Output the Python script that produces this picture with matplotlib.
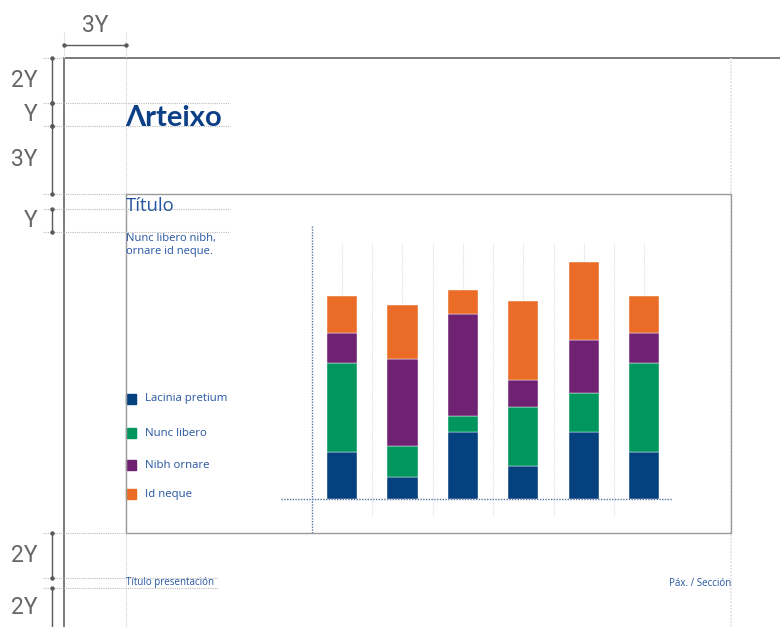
import matplotlib.pyplot as plt
from matplotlib.patches import Rectangle
import numpy as np

# stacked values per column, bottom to top
series = ["Lacinia pretium", "Nunc libero", "Nibh ornare", "Id neque"]
lacinia = [4.7, 2.2, 6.7, 3.3, 6.7, 4.7]
nunc = [8.9, 3.1, 1.6, 5.9, 3.9, 8.9]
nibh = [3.0, 8.7, 10.2, 2.7, 5.3, 3.0]
neque = [3.7, 5.4, 2.4, 7.9, 7.8, 3.7]
colors = ["#05407f", "#00965e", "#702272", "#ea6c27"]

title = "Título"
subtitle = "Nunc libero nibh,\nornare id neque."
footer_left = "Título presentación"
footer_right = "Páx. / Sección"

BLUE_TXT = "#2555a0"
GUIDE = "#bbbbbb"
DIM = "#5a5a5a"
FRAME = "#7a7a7a"
TXT_FONT = "Open Sans"

fig = plt.figure(figsize=(7.8, 6.27), dpi=100)
bg = fig.add_axes([0, 0, 1, 1])
bg.set_xlim(0, 780)
bg.set_ylim(627, 0)
bg.axis("off")

dotted = (0, (1, 1))

# page frame
bg.plot([64, 64], [58, 627], color=FRAME, lw=1.4)
bg.plot([64, 780], [58, 58], color=FRAME, lw=1.4)
# margin guides
bg.plot([731, 731], [58, 627], color="#dddddd", lw=1.2, ls=dotted)
bg.plot([126, 126], [32, 627], color="#d0d0d0", lw=0.8, ls=dotted)
bg.plot([64, 64], [32, 58], color="#d0d0d0", lw=0.8, ls=dotted)

# content box
bg.plot([126, 731, 731, 126, 126], [194, 194, 533, 533, 194], color="#9a9a9a", lw=1.0)

# horizontal guides
for y, x1 in [(58, 64), (103, 230), (126, 230), (194, 126), (209, 230),
              (232, 230), (533, 126), (578, 218), (588, 218)]:
    bg.plot([43, x1], [y, y], color=GUIDE, lw=0.8, ls=dotted)

dim_text = dict(fontsize=16.5, color="#666666", family="Roboto", fontweight="normal")

# dimension markers
def vdim(y0, y1, label, x=52):
    bg.plot([x, x], [y0, y1], color=DIM, lw=1.0)
    bg.plot([x, x], [y0, y1], "o", color=DIM, ms=2.2)
    bg.text(37, (y0 + y1) / 2, label, ha="right", va="center", **dim_text)

vdim(58, 103, "2Y")
vdim(103, 126, "Y")
vdim(126, 194, "3Y")
vdim(209, 232, "Y")
vdim(533, 578, "2Y")
bg.plot([52, 52], [588, 627], color=DIM, lw=1.0)
bg.plot([52], [588], "o", color=DIM, ms=2.2)
bg.text(37, 608, "2Y", ha="right", va="center", **dim_text)

bg.plot([64, 126], [45, 45], color=DIM, lw=1.0)
bg.plot([64, 126], [45, 45], "o", color=DIM, ms=2.2)
bg.text(95, 25, "3Y", ha="center", va="center", **dim_text)

# logo and headings
bg.text(125, 126, "Λrteixo", ha="left", va="baseline", fontsize=21,
        fontweight="bold", color="#0b3f86", family="Lato")
bg.text(126, 211, title, ha="left", va="baseline", fontsize=13.3,
        color=BLUE_TXT, family=TXT_FONT)
bg.text(126, 245, subtitle, ha="left", va="center", fontsize=8.0,
        color=BLUE_TXT, family=TXT_FONT, linespacing=1.25)

# legend
for name, c, y in zip(series, colors, [399, 433, 465, 494]):
    bg.add_patch(Rectangle((126, y - 5), 10, 10, color=c))
    bg.text(145, y, name, ha="left", va="center", fontsize=8.2,
            color=BLUE_TXT, family=TXT_FONT)

# footer
bg.text(126, 583, footer_left, ha="left", va="center", fontsize=7.0,
        color=BLUE_TXT, family=TXT_FONT)
bg.text(731, 583, footer_right, ha="right", va="center", fontsize=7.0,
        color=BLUE_TXT, family=TXT_FONT)

# stacked bar chart
ax = fig.add_axes([281 / 780, (627 - 533) / 627, (672 - 281) / 780, (533 - 226) / 627])
ax.set_xlim(-1.01, 5.46)
ax.set_ylim(-3.4, 27.3)
ax.axis("off")

x = np.arange(len(lacinia))
for xi in x:
    ax.plot([xi, xi], [0, 25.6], color="#d5deeb", lw=0.8, ls=dotted, zorder=0)
for xi in x[:-1] + 0.5:
    ax.plot([xi, xi], [-1.6, 25.6], color="#d5deeb", lw=0.8, ls=dotted, zorder=0)
ax.plot([-0.505, -0.505], [-3.4, 27.3], color="#5873a3", lw=1.0, ls=dotted)
ax.plot([-1.01, 5.46], [0, 0], color="#5873a3", lw=1.0, ls=dotted, zorder=3)

bottom = np.zeros(len(x))
for vals, c in zip([lacinia, nunc, nibh, neque], colors):
    ax.bar(x, vals, 0.5, bottom=bottom, color=c, edgecolor="#ffffff",
           linewidth=0.3, zorder=2)
    bottom += np.array(vals)

fig.savefig("out.png", dpi=100)
